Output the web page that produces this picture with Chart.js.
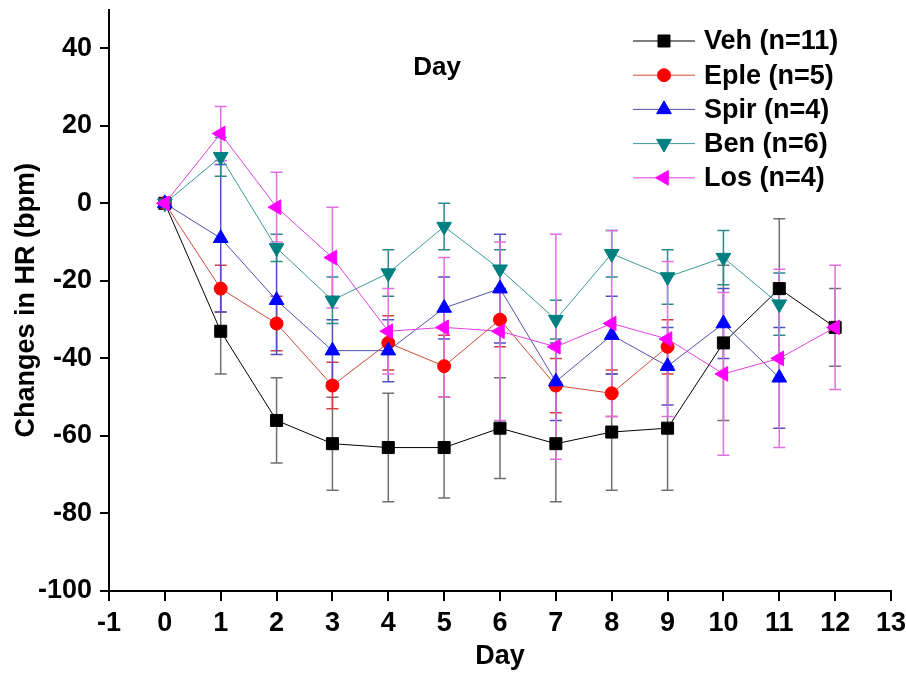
<!DOCTYPE html>
<html><head><meta charset="utf-8">
<script src="https://cdn.jsdelivr.net/npm/chart.js@4"></script>
<style>html,body{margin:0;padding:0;background:#fff}#wrap{width:906px;height:673px;position:relative}</style>
</head><body><div id="wrap"><canvas id="c" width="906" height="673"></canvas></div>
<script>
const days = [0,1,2,3,4,5,6,7,8,9,10,11,12];
const vehValues  = [0,-33,-56,-62,-63,-63,-58,-62,-59,-58,-36,-22,-32];
const vehErrors  = [0,11,11,12,14,13,13,15,15,16,20,18,10];
const epleValues = [0,-22,-31,-47,-36,-42,-30,-47,-49,-37];
const epleErrors = [0,6,7,6,7,8,7,7,6,7];
const spirValues = [0,-9,-25,-38,-38,-27,-22,-46,-34,-42,-31,-45];
const spirErrors = [0,19,14,8,8,8,14,10,10,10,9,13];
const benValues  = [0,12,-11.5,-25,-18,-6,-17,-30,-13,-19,-14,-26];
const benErrors  = [0,5,3.5,6,6,6,5,5,6,7,7,8];
const losValues  = [0,18,-1,-14,-33,-32,-33,-37,-31,-35,-44,-40,-32];
const losErrors  = [0,7,9,13,11,18,23,29,24,20,21,23,16];
const seriesNames = ['Veh (n=11)','Eple (n=5)','Spir (n=4)','Ben (n=6)','Los (n=4)'];
const yTickValues = [-100,-80,-60,-40,-20,0,20,40];
const xTickValues = [-1,0,1,2,3,4,5,6,7,8,9,10,11,12,13];
const panelTitle = 'Day';
const xTitle = 'Day';
const yTitle = 'Changes in HR (bpm)';

const FONT = "'Liberation Sans', Arial, sans-serif";
const pts = vals => vals.map((v,i)=>({x:days[i], y:v}));

const styles = [
  {line:'#000000', fill:'#000000', err:'#707070', ps:'rect', rot:0, r:8.5},
  {line:'#d04a3a', fill:'#ff0000', err:'#d04040', ps:'circle', rot:0, r:6.5},
  {line:'#5050b0', fill:'#0000ff', err:'#5050c0', ps:'triangle', rot:0, r:8.5},
  {line:'#3a9a9a', fill:'#008080', err:'#2a8a8a', ps:'triangle', rot:180, r:8.5},
  {line:'#e040e0', fill:'#ff00ff', err:'#e070e0', ps:'triangle', rot:-90, r:8.5}
];
const valueSets = [vehValues, epleValues, spirValues, benValues, losValues];
const errorSets = [vehErrors, epleErrors, spirErrors, benErrors, losErrors];

const datasets = valueSets.map((vals,i)=>({
  label: seriesNames[i],
  data: pts(vals),
  errors: errorSets[i],
  errColor: styles[i].err,
  borderColor: styles[i].line,
  borderWidth: 1,
  backgroundColor: styles[i].fill,
  pointBackgroundColor: styles[i].fill,
  pointBorderColor: styles[i].fill,
  pointBorderWidth: 1,
  pointStyle: styles[i].ps,
  pointRotation: styles[i].rot,
  pointRadius: styles[i].r,
  pointHoverRadius: styles[i].r,
  order: 4 - i,
  tension: 0,
  fill: false
}));

const errorBarPlugin = {
  id: 'errbars',
  beforeDatasetsDraw(chart){
    const ctx = chart.ctx, xs = chart.scales.x, ys = chart.scales.y;
    chart.data.datasets.forEach(ds=>{
      ctx.save();
      ctx.strokeStyle = ds.errColor;
      ctx.lineWidth = 1.5;
      ds.data.forEach((p,i)=>{
        const e = ds.errors[i];
        if(!e) return;
        const px = xs.getPixelForValue(p.x);
        const t = ys.getPixelForValue(p.y + e);
        const b = ys.getPixelForValue(p.y - e);
        ctx.beginPath();
        ctx.moveTo(px,t); ctx.lineTo(px,b);
        ctx.moveTo(px-6,t); ctx.lineTo(px+6,t);
        ctx.moveTo(px-6,b); ctx.lineTo(px+6,b);
        ctx.stroke();
      });
      ctx.restore();
    });
  }
};

const legendPlugin = {
  id: 'customLegend',
  afterDraw(chart){
    const ctx = chart.ctx;
    ctx.save();
    ctx.fillStyle = '#000';
    ctx.font = "bold 26px " + FONT;
    ctx.textAlign = 'center';
    ctx.textBaseline = 'middle';
    ctx.fillText(panelTitle, 437, 68);
    chart.data.datasets.forEach((ds,i)=>{
      const y = 41 + i*34.2;
      ctx.strokeStyle = ds.borderColor;
      ctx.lineWidth = 1;
      ctx.beginPath(); ctx.moveTo(633,y); ctx.lineTo(695,y); ctx.stroke();
      ctx.fillStyle = ds.pointBackgroundColor;
      ctx.strokeStyle = ds.pointBorderColor;
      Chart.helpers.drawPoint(ctx, {pointStyle: ds.pointStyle, rotation: ds.pointRotation, radius: ds.pointRadius, borderWidth: 1}, 664, y);
      ctx.fillStyle = '#000';
      ctx.font = "bold 27px " + FONT;
      ctx.textAlign = 'left';
      ctx.textBaseline = 'middle';
      ctx.fillText(ds.label, 704, y + 1);
    });
    ctx.restore();
  }
};

const tickFont = {family: FONT, size: 27, weight: 'bold'};

new Chart(document.getElementById('c'), {
  type: 'line',
  data: {datasets},
  plugins: [errorBarPlugin, legendPlugin],
  options: {
    responsive: false,
    animation: false,
    layout: {padding: {top: 8, right: 15, left: 0, bottom: 0}},
    plugins: {legend: {display: false}, tooltip: {enabled: false}, title: {display: false}},
    scales: {
      x: {
        type: 'linear', min: -1, max: 13,
        afterBuildTicks: s => { s.ticks = xTickValues.map(v=>({value:v})); },
        afterFit: s => { s.height = 82; s.paddingLeft = 0; s.paddingRight = 0; },
        grid: {drawOnChartArea: false, drawTicks: true, tickLength: 10, color: '#000', lineWidth: 2},
        border: {display: true, color: '#000', width: 2},
        ticks: {color: '#000', font: tickFont, padding: 6, maxRotation: 0, autoSkip: false},
        title: {display: true, text: xTitle, color: '#000', font: tickFont, padding: {top: 0, bottom: 0}}
      },
      y: {
        type: 'linear', min: -100, max: 50,
        afterBuildTicks: s => { s.ticks = yTickValues.map(v=>({value:v})); },
        afterFit: s => { s.width = 109; s.paddingTop = 0; s.paddingBottom = 0; },
        grid: {drawOnChartArea: false, drawTicks: true, tickLength: 9, color: '#000', lineWidth: 2},
        border: {display: true, color: '#000', width: 2},
        ticks: {color: '#000', font: tickFont, padding: 8, autoSkip: false},
        title: {display: true, text: yTitle, color: '#000', font: tickFont, padding: {top: 10, bottom: 0}}
      }
    }
  }
});
</script></body></html>
